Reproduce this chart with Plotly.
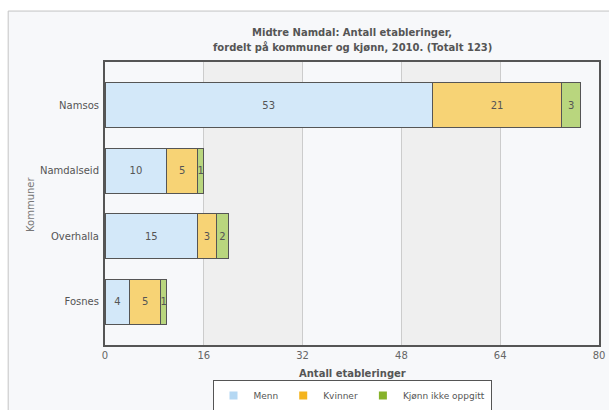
import plotly.graph_objects as go

kommuner = ["Namsos", "Namdalseid", "Overhalla", "Fosnes"]
menn = [53, 10, 15, 4]
kvinner = [21, 5, 3, 5]
ikke_oppgitt = [3, 1, 2, 1]
x_ticks = [0, 16, 32, 48, 64, 80]

series = [
    ("Menn", menn, "#d3e8f9", "#b5d8f3"),
    ("Kvinner", kvinner, "#f7d375", "#f4b41e"),
    ("Kjønn ikke oppgitt", ikke_oppgitt, "#b9d67e", "#86b22a"),
]

FONT = "DejaVu Sans"
TXT = "#555555"

fig = go.Figure()
for name, vals, fill, legcol in series:
    fig.add_trace(go.Bar(
        name=name, y=kommuner, x=vals, orientation="h",
        marker=dict(color=fill, line=dict(color="#555555", width=1)),
        text=[str(v) for v in vals], textposition="inside",
        insidetextanchor="middle", textangle=0, constraintext="none",
        textfont=dict(family=FONT, size=10, color=TXT),
        hoverinfo="skip", showlegend=False,
    ))
for name, vals, fill, legcol in series:
    fig.add_trace(go.Scatter(
        name=name, x=[None], y=[None], mode="markers",
        marker=dict(symbol="square", size=8, color=legcol, line=dict(width=0)),
        showlegend=True, hoverinfo="skip",
    ))

shapes = [
    dict(type="rect", xref="paper", yref="paper", x0=-0.196, x1=1.1, y0=-0.3, y1=1.18,
         fillcolor="#f7f8fa", line=dict(color="#c4c4c4", width=1), layer="below"),
    dict(type="rect", xref="x", yref="paper", x0=16, x1=32, y0=0, y1=1,
         fillcolor="#efefef", line=dict(width=0), layer="below"),
    dict(type="rect", xref="x", yref="paper", x0=48, x1=64, y0=0, y1=1,
         fillcolor="#efefef", line=dict(width=0), layer="below"),
]

fig.update_layout(
    width=609, height=410,
    margin=dict(l=105, r=10, t=62, b=65, autoexpand=False),
    barmode="stack", bargap=0.31,
    paper_bgcolor="white", plot_bgcolor="white",
    font=dict(family=FONT, size=10, color=TXT),
    shapes=shapes,
    showlegend=True,
    legend=dict(orientation="h", x=0.5, xanchor="center", y=-(380 - 345) / 283,
                yanchor="top", bgcolor="white", bordercolor="#555555", borderwidth=1,
                font=dict(family=FONT, size=9, color=TXT), traceorder="normal",
                itemwidth=30, tracegroupgap=0),
    xaxis=dict(range=[0, 80], tickvals=x_ticks, showgrid=True, gridcolor="#cccccc",
               gridwidth=1, zeroline=False, showline=True, linecolor="#555555",
               linewidth=2, mirror=True, ticks="", tickfont=dict(size=10, color="#666666"),
               automargin=False),
    yaxis=dict(categoryorder="array", categoryarray=kommuner, range=[3.66, -0.66],
               showgrid=False, showline=True, linecolor="#555555", linewidth=2,
               mirror=True, ticks="", ticklabelstandoff=2,
               tickfont=dict(size=10, color=TXT), automargin=False),
    annotations=[
        dict(text="<b>Midtre Namdal: Antall etableringer,</b>", xref="paper", yref="paper",
             x=0.5, y=(345 - 33) / 283, xanchor="center", yanchor="middle",
             showarrow=False, font=dict(size=10, color=TXT)),
        dict(text="<b>fordelt på kommuner og kjønn, 2010. (Totalt 123)</b>", xref="paper",
             yref="paper", x=0.5, y=(345 - 47) / 283, xanchor="center", yanchor="middle",
             showarrow=False, font=dict(size=10, color=TXT)),
        dict(text="<b>Antall etableringer</b>", xref="paper", yref="paper",
             x=0.5, y=(345 - 373) / 283, xanchor="center", yanchor="middle",
             showarrow=False, font=dict(size=10, color=TXT)),
        dict(text="Kommuner", xref="paper", yref="paper", textangle=-90,
             x=(30 - 105) / 494, y=(345 - 205) / 283, xanchor="center", yanchor="middle",
             showarrow=False, font=dict(size=10, color="#777777")),
    ],
)

fig.write_html(
    "out.html",
    config={"displayModeBar": False},
    post_script="document.body.style.margin='0';document.body.style.overflow='hidden';",
)
